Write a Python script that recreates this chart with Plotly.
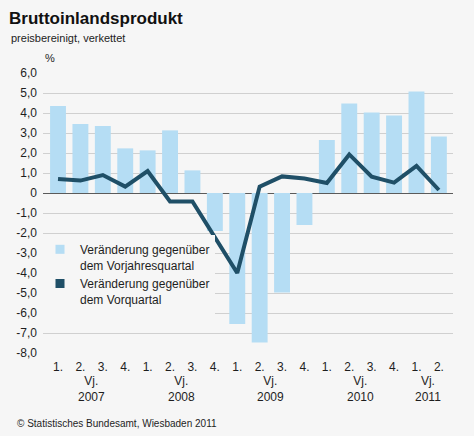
import plotly.graph_objects as go

# ---- data ----
quarter_labels = ["1.", "2.", "3.", "4.", "1.", "2.", "3.", "4.", "1.", "2.", "3.", "4.",
                  "1.", "2.", "3.", "4.", "1.", "2."]
quarter_years = [2007, 2007, 2007, 2007, 2008, 2008, 2008, 2008, 2009, 2009, 2009, 2009,
                 2010, 2010, 2010, 2010, 2011, 2011]
yoy_change = [4.35, 3.45, 3.35, 2.23, 2.13, 3.13, 1.13, -1.9, -6.55, -7.47, -4.98, -1.6,
              2.65, 4.47, 4.03, 3.87, 5.07, 2.83]
qoq_change = [0.7, 0.62, 0.9, 0.32, 1.1, -0.42, -0.42, -2.2, -4.0, 0.32, 0.83, 0.72,
              0.5, 1.93, 0.82, 0.52, 1.35, 0.15]
y_tick_values = [6, 5, 4, 3, 2, 1, 0, -1, -2, -3, -4, -5, -6, -7, -8]
y_tick_labels = ["6,0", "5,0", "4,0", "3,0", "2,0", "1,0", "0", "-1,0", "-2,0", "-3,0",
                 "-4,0", "-5,0", "-6,0", "-7,0", "-8,0"]
series_names = ["Veränderung gegenüber<br>dem Vorjahresquartal",
                "Veränderung gegenüber<br>dem Vorquartal"]
title_text = "Bruttoinlandsprodukt"
subtitle_text = "preisbereinigt, verkettet"
unit_text = "%"
year_prefix = "Vj."
source_text = "© Statistisches Bundesamt, Wiesbaden 2011"

# ---- style ----
W, H = 474, 436
L, R, T, B = 43, 453, 73, 353
BG = "#f6f6f6"
BAR_COLOR = "#b5ddf4"
LINE_COLOR = "#1f4f67"
TEXT = "#1e1e1e"
SANS = "Liberation Sans, Arial, sans-serif"


def px_x(px):
    return (px - L) / (R - L)


def px_y(py):
    return (B - py) / (B - T)


xs = list(range(len(quarter_labels)))

fig = go.Figure()
fig.add_trace(go.Bar(
    x=xs, y=yoy_change, marker=dict(color=BAR_COLOR, line=dict(width=0)),
    width=0.71, showlegend=False, name=series_names[0]))
fig.add_trace(go.Scatter(
    x=xs, y=qoq_change, mode="lines", line=dict(color=LINE_COLOR, width=4),
    showlegend=False, name=series_names[1]))
# legend entries (square swatches like the original)
fig.add_trace(go.Scatter(
    x=[None], y=[None], mode="markers", name=series_names[0],
    marker=dict(symbol="square", size=9, color=BAR_COLOR)))
fig.add_trace(go.Scatter(
    x=[None], y=[None], mode="markers", name=series_names[1],
    marker=dict(symbol="square", size=9, color=LINE_COLOR)))

annotations = [
    dict(text="<b>" + title_text + "</b>", x=px_x(7), y=px_y(18), xref="paper", yref="paper",
         xanchor="left", yanchor="middle", showarrow=False,
         font=dict(family=SANS, size=17, color="#111")),
    dict(text=subtitle_text, x=px_x(9), y=px_y(38), xref="paper", yref="paper",
         xanchor="left", yanchor="middle", showarrow=False,
         font=dict(family=SANS, size=11, color="#222")),
    dict(text=unit_text, x=px_x(43), y=px_y(58), xref="paper", yref="paper",
         xanchor="left", yanchor="middle", showarrow=False,
         font=dict(family=SANS, size=11, color=TEXT)),
    dict(text=source_text, x=px_x(15), y=px_y(423), xref="paper", yref="paper",
         xanchor="left", yanchor="middle", showarrow=False,
         font=dict(family=SANS, size=10, color=TEXT)),
]
for yr in sorted(set(quarter_years)):
    idx = [i for i, y in enumerate(quarter_years) if y == yr]
    xc = sum(idx) / len(idx)
    annotations.append(dict(text=year_prefix + "<br>" + str(yr), x=xc, y=px_y(389),
                            xref="x", yref="paper", xanchor="center", yanchor="middle",
                            showarrow=False, font=dict(family=SANS, size=12, color=TEXT)))

fig.update_layout(
    width=W, height=H,
    margin=dict(l=L, r=W - R, t=T, b=H - B, pad=0),
    paper_bgcolor=BG, plot_bgcolor=BG,
    annotations=annotations,
    legend=dict(x=px_x(40), y=px_y(235), xanchor="left", yanchor="top",
                bgcolor=BG, borderwidth=0, valign="top", tracegroupgap=0,
                font=dict(family=SANS, size=12, color=TEXT)),
    xaxis=dict(range=[-0.67, 17.63], tickvals=xs, ticktext=quarter_labels,
               showgrid=False, zeroline=False, showline=False, ticks="",
               ticklabelstandoff=5,
               tickfont=dict(family=SANS, size=12, color=TEXT), fixedrange=True),
    yaxis=dict(range=[-8, 6], tickvals=y_tick_values, ticktext=y_tick_labels,
               showgrid=True, gridcolor="#d0d0d0", gridwidth=1.3,
               zeroline=True, zerolinecolor="#5a5a5a", zerolinewidth=1.2,
               showline=False, ticks="", ticklabelstandoff=5,
               tickfont=dict(family=SANS, size=12, color=TEXT), fixedrange=True),
)

fig.write_html("out.html", config={"displayModeBar": False},
               post_script="document.body.style.margin='0';")
